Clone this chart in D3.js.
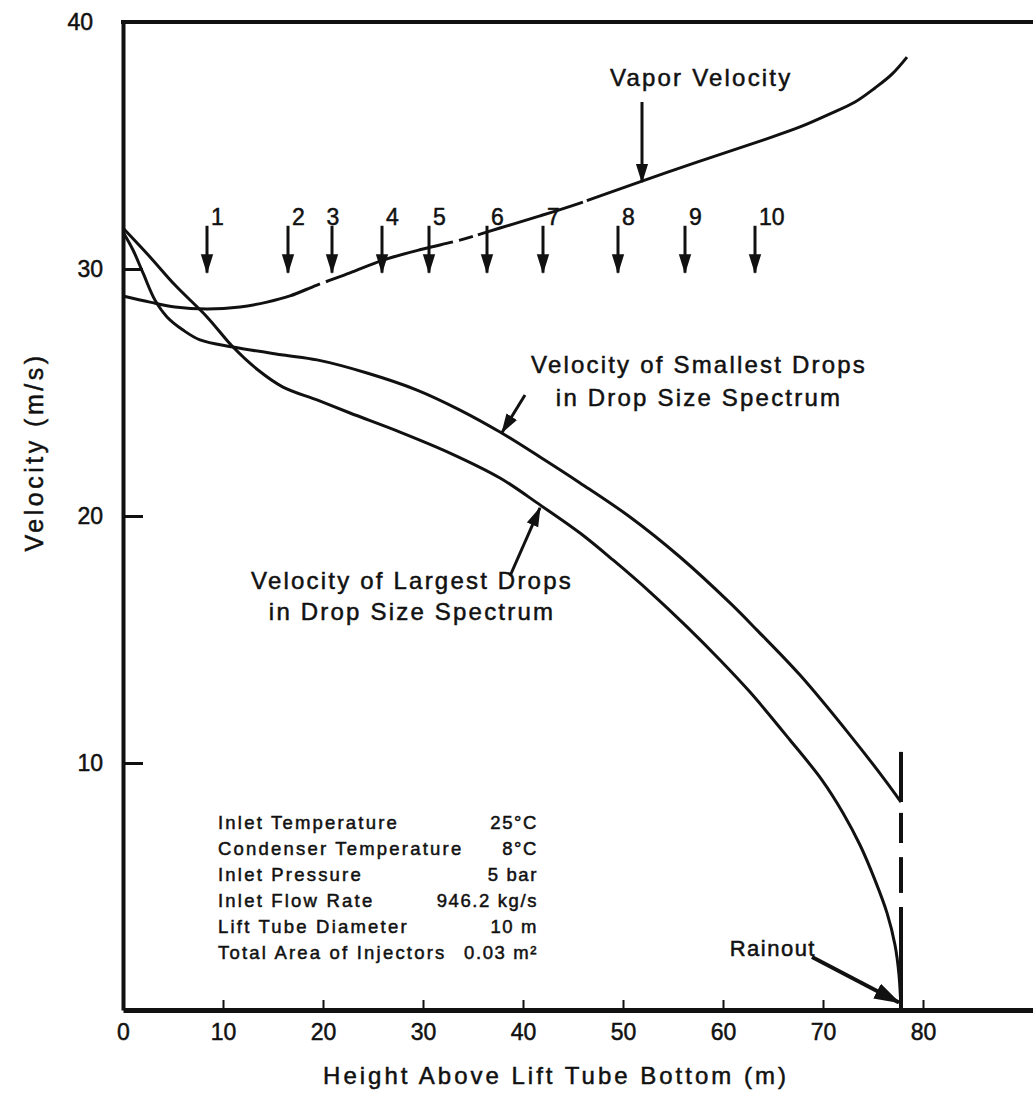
<!DOCTYPE html>
<html lang="en">
<head>
<meta charset="UTF-8">
<title>Lift Tube Velocities</title>
<script src="https://d3js.org/d3.v7.min.js"></script>
<style>
    body { margin: 0; background: #fff; }
    text { font-family: "Liberation Sans", Arial, Helvetica, sans-serif; fill: #111; stroke: #111; stroke-width: 0.5px; }
    .curve { fill: none; stroke: #111; stroke-width: 3; stroke-linejoin: round; }
</style>
</head>
<body>
<svg id="chart" width="1033" height="1100"></svg>
<script>
    // height above lift tube bottom (m), velocity (m/s)
    const vapor = [[0, 28.91], [2.7, 28.66], [5.2, 28.46], [8.4, 28.38], [11.7, 28.46], [14.4, 28.66],
        [16.7, 28.91], [19.4, 29.35], [22.7, 29.84], [26, 30.36], [30, 30.81], [33.7, 31.17],
        [37.7, 31.66], [41.7, 32.15], [45.7, 32.67], [51.9, 33.56], [57.4, 34.33], [64, 35.22],
        [67.7, 35.75], [70.7, 36.28], [73.2, 36.76], [75.2, 37.33], [76.9, 37.89], [78.4, 38.58]];
    // short breaks in the printed vapor line (m)
    const vaporBreaks = [[19.7, 20.3], [33.0, 33.6], [35.0, 35.5], [46.0, 46.4]];

    const smallestDrops = [[0, 31.5], [1, 30.77], [2, 29.84], [3.2, 28.74], [4.4, 28.06], [6, 27.53],
        [7.7, 27.13], [11, 26.84], [16, 26.52], [19.4, 26.32], [24.4, 25.79], [29.4, 25.1], [33.7, 24.29],
        [37.7, 23.4], [41.7, 22.39], [45.7, 21.34], [50.7, 19.96], [55.7, 18.34], [60.7, 16.48],
        [63.4, 15.38], [67.7, 13.56], [72.7, 11.13], [76.2, 9.31], [77.8, 8.42]];

    const largestDrops = [[0, 31.66], [2.7, 30.49], [5.2, 29.35], [8.4, 28.06], [11, 26.84], [13.5, 25.91],
        [16, 25.22], [19.4, 24.7], [22.7, 24.17], [27.7, 23.4], [32.7, 22.55], [37.7, 21.54], [41.7, 20.45],
        [45.7, 19.31], [49, 18.22], [52.7, 16.92], [56.4, 15.51], [59.7, 14.17], [62.7, 12.87], [66.7, 10.93],
        [69.9, 9.31], [72, 7.98], [73.7, 6.68], [75.2, 5.26], [76.4, 3.93], [77.2, 2.63], [77.6, 1.42], [77.8, 0]];

    // rainout height and the pieces of the broken vertical line (velocity from, to)
    const rainoutHeight = 77.8;
    const rainoutPieces = [[10.45, 8.42], [7.98, 6.76], [6.19, 4.74], [4.17, 0]];

    // numbered arrows along the vapor line
    const stationLabels = ["1", "2", "3", "4", "5", "6", "7", "8", "9", "10"];
    const stationHeights = [8.4, 16.5, 20.9, 25.9, 30.6, 36.4, 42.0, 49.5, 56.2, 63.2];

    const xTicks = [0, 10, 20, 30, 40, 50, 60, 70, 80];
    const yTicks = [10, 20, 30, 40];

    const params = ["Inlet Temperature", "Condenser Temperature", "Inlet Pressure",
        "Inlet Flow Rate", "Lift Tube Diameter", "Total Area of Injectors"];
    const paramValues = ["25°C", "8°C", "5 bar", "946.2 kg/s", "10 m", "0.03 m²"];

    const svg = d3.select("#chart");
    const x = d3.scaleLinear().domain([0, 91]).range([123, 1033]);
    const y = d3.scaleLinear().domain([0, 40]).range([1010, 22]);

    const defs = svg.append("defs");
    defs.append("marker")
        .attr("id", "head")
        .attr("viewBox", "0 0 16 10")
        .attr("refX", 15).attr("refY", 5)
        .attr("markerWidth", 6.6).attr("markerHeight", 4.4)
        .attr("markerUnits", "strokeWidth")
        .attr("orient", "auto")
        .append("path")
        .attr("d", "M0,0 L16,5 L0,10 Z")
        .attr("fill", "#111");

    // frame: top border
    svg.append("line")
        .attr("x1", x(0) - 2).attr("x2", 1033)
        .attr("y1", y(40)).attr("y2", y(40))
        .attr("stroke", "#111").attr("stroke-width", 4);

    // x axis, ticks pointing up into the plot
    const xAxis = svg.append("g")
        .attr("transform", `translate(0,${y(0)})`)
        .call(d3.axisBottom(x).tickValues(xTicks).tickSize(-10).tickSizeOuter(0).tickPadding(14));
    xAxis.select(".domain").attr("stroke", "#111").attr("stroke-width", 5);
    xAxis.selectAll(".tick line").attr("stroke", "#111").attr("stroke-width", 2);
    xAxis.selectAll(".tick text").attr("font-size", 23);

    // y axis, ticks pointing right into the plot
    const yAxis = svg.append("g")
        .attr("transform", `translate(${x(0)},0)`)
        .call(d3.axisLeft(y).tickValues(yTicks).tickSize(-20).tickSizeOuter(0).tickPadding(22));
    yAxis.select(".domain").attr("stroke", "#111").attr("stroke-width", 4);
    yAxis.selectAll(".tick line").attr("stroke", "#111").attr("stroke-width", 3)
        .attr("display", d => d === 40 ? "none" : null);
    yAxis.selectAll(".tick text")
        .attr("font-size", 23)
        .attr("x", d => d === 40 ? -30 : -20);

    // axis titles
    svg.append("text")
        .attr("x", 556).attr("y", 1084)
        .attr("text-anchor", "middle")
        .attr("font-size", 24).attr("letter-spacing", 3)
        .text("Height Above Lift Tube Bottom (m)");

    svg.append("text")
        .attr("transform", "translate(43,452) rotate(-90)")
        .attr("text-anchor", "middle")
        .attr("font-size", 25).attr("letter-spacing", 3.5)
        .text("Velocity (m/s)");

    // curves
    const line = d3.line()
        .x(d => x(d[0]))
        .y(d => y(d[1]))
        .curve(d3.curveCatmullRom.alpha(0.5));

    const vaporPath = svg.append("path").attr("class", "curve").attr("d", line(vapor));
    svg.append("path").attr("class", "curve").attr("d", line(smallestDrops));
    svg.append("path").attr("class", "curve").attr("d", line(largestDrops));

    // turn the breaks into a dash pattern along the vapor path
    (function () {
        const node = vaporPath.node();
        const total = node.getTotalLength();
        function lengthAt(px) {
            let lo = 0, hi = total;
            for (let k = 0; k < 30; k++) {
                const mid = (lo + hi) / 2;
                if (node.getPointAtLength(mid).x < px) lo = mid; else hi = mid;
            }
            return lo;
        }
        let pos = 0;
        const dash = [];
        vaporBreaks.forEach(([a, b]) => {
            const la = lengthAt(x(a)), lb = lengthAt(x(b));
            dash.push(la - pos, lb - la);
            pos = lb;
        });
        dash.push(total - pos, 0);
        vaporPath.attr("stroke-dasharray", dash.join(" "));
    })();

    // broken vertical line at rainout
    rainoutPieces.forEach(p => {
        svg.append("line")
            .attr("x1", x(rainoutHeight)).attr("x2", x(rainoutHeight))
            .attr("y1", y(p[0])).attr("y2", y(p[1]))
            .attr("stroke", "#111").attr("stroke-width", 4);
    });

    function arrow(x1, y1, x2, y2, w) {
        svg.append("line")
            .attr("x1", x1).attr("y1", y1).attr("x2", x2).attr("y2", y2)
            .attr("stroke", "#111").attr("stroke-width", w)
            .attr("marker-end", "url(#head)");
    }

    // station arrows 1-10
    stationHeights.forEach((h, i) => {
        arrow(x(h), y(31.75), x(h), y(29.85), 3);
        svg.append("text")
            .attr("x", x(h) + (i === 2 ? 1 : 4))
            .attr("y", 225)
            .attr("text-anchor", i === 2 ? "middle" : "start")
            .attr("font-size", 23)
            .text(stationLabels[i]);
    });

    // vapor velocity label
    arrow(x(51.9), 102, x(51.9), y(33.56) + 1, 3);
    svg.append("text").attr("x", 610).attr("y", 86)
        .attr("font-size", 24).attr("letter-spacing", 2.2)
        .text("Vapor Velocity");

    // smallest drops label
    arrow(525, 395, x(38) - 1, y(23.3) - 2, 3);
    svg.append("text").attr("x", 699).attr("y", 373)
        .attr("text-anchor", "middle").attr("font-size", 24).attr("letter-spacing", 2.2)
        .text("Velocity of Smallest Drops");
    svg.append("text").attr("x", 699).attr("y", 406)
        .attr("text-anchor", "middle").attr("font-size", 24).attr("letter-spacing", 2.2)
        .text("in Drop Size Spectrum");

    // largest drops label
    arrow(510, 576, x(41.7), y(20.45) + 3, 3);
    svg.append("text").attr("x", 412).attr("y", 589)
        .attr("text-anchor", "middle").attr("font-size", 24).attr("letter-spacing", 2.2)
        .text("Velocity of Largest Drops");
    svg.append("text").attr("x", 412).attr("y", 620)
        .attr("text-anchor", "middle").attr("font-size", 24).attr("letter-spacing", 2.2)
        .text("in Drop Size Spectrum");

    // rainout label
    arrow(812, 957, x(rainoutHeight) - 2, y(0.3), 4);
    svg.append("text").attr("x", 816).attr("y", 956)
        .attr("text-anchor", "end").attr("font-size", 22).attr("letter-spacing", 1.5)
        .text("Rainout");

    // run conditions
    const table = svg.append("g");
    params.forEach((p, i) => {
        table.append("text").attr("x", 218).attr("y", 829 + i * 26)
            .attr("font-size", 18.5).attr("letter-spacing", 2.2)
            .text(p);
        table.append("text").attr("x", 538).attr("y", 829 + i * 26)
            .attr("text-anchor", "end").attr("font-size", 18.5).attr("letter-spacing", 1.6)
            .text(paramValues[i]);
    });
</script>
</body>
</html>
